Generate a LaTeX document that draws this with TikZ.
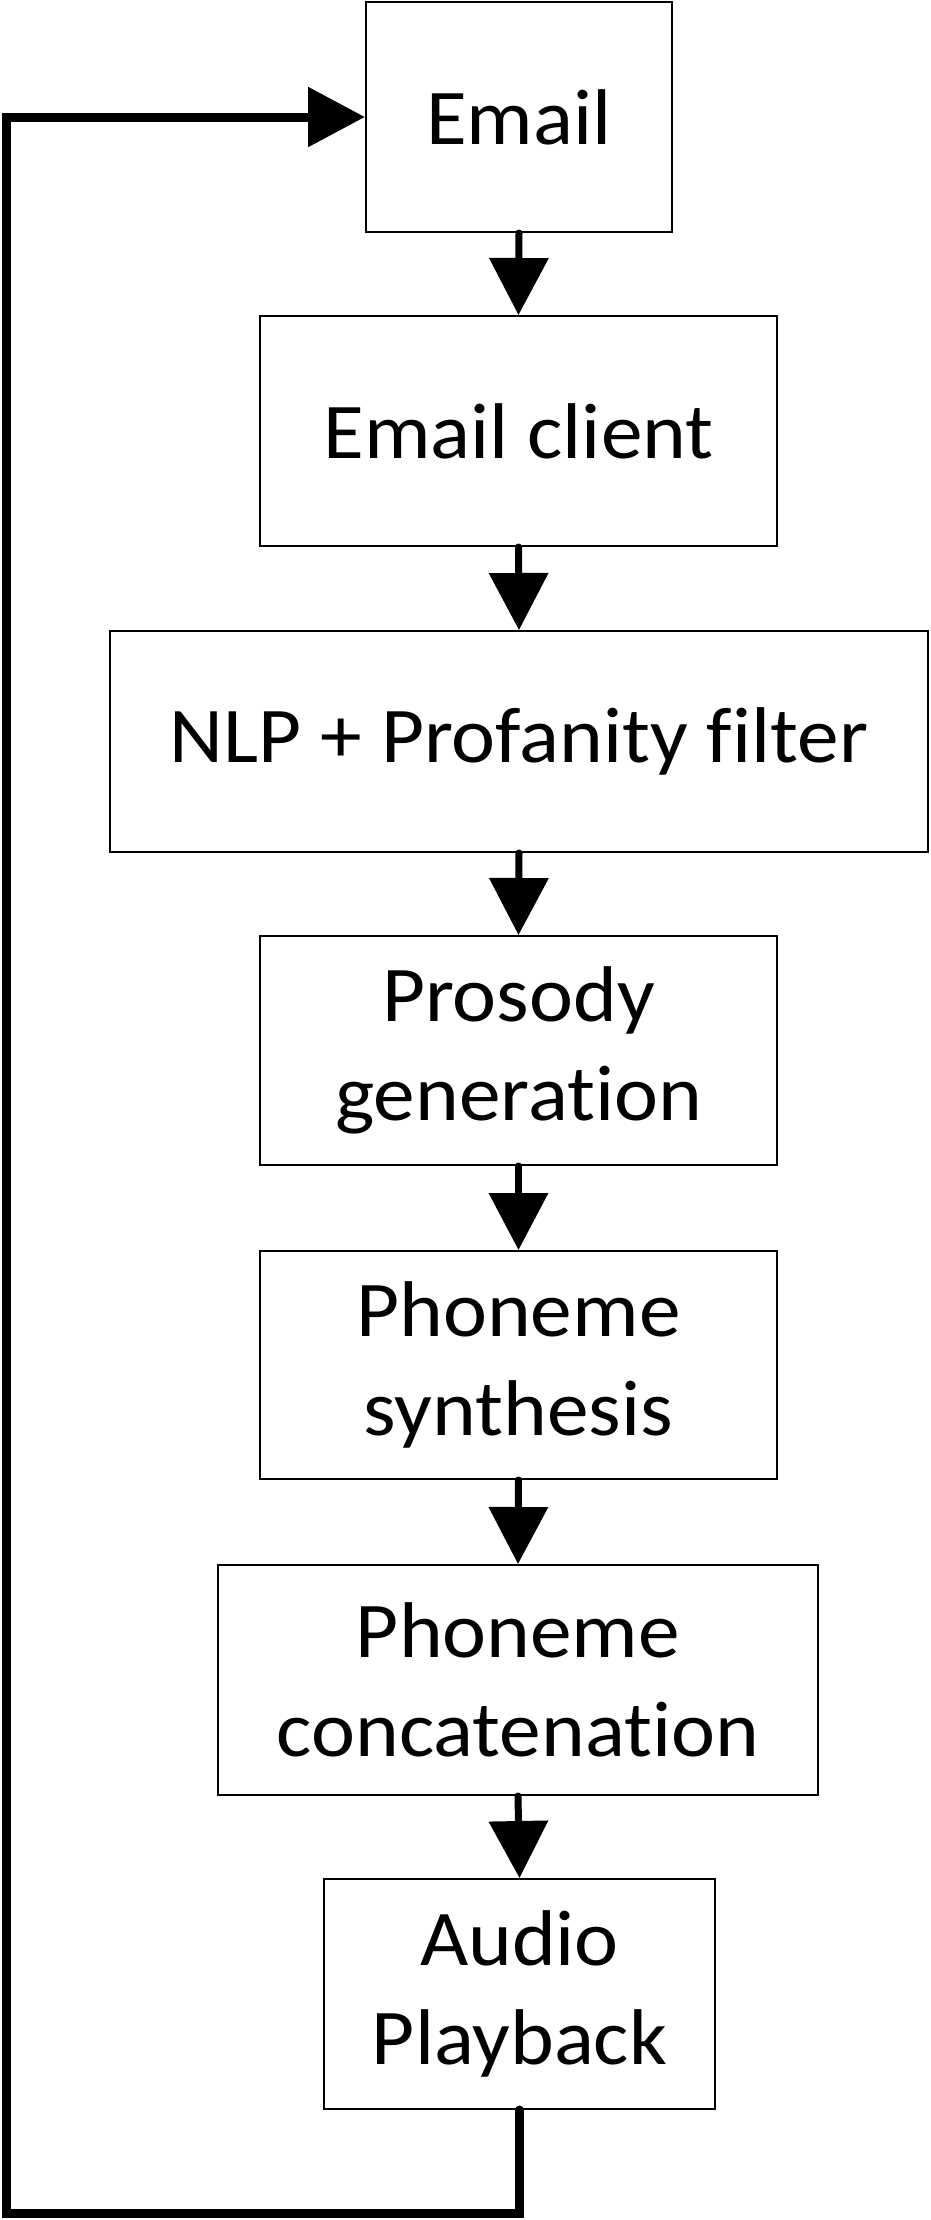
\documentclass[tikz,border=0pt]{standalone}
\usepackage{fontspec}
\setmainfont{Carlito}[FakeStretch=1.055,Ligatures=NoCommon]
\usetikzlibrary{arrows.meta}
\begin{document}
\begin{tikzpicture}[x=1pt,y=-1pt,
  box/.style={draw=black,line width=2pt,rectangle,align=center,inner sep=0pt,
    font=\fontsize{79}{99}\selectfont},
  flow/.style={line width=7pt,line cap=round,-{Triangle[length=57pt,width=58pt]}},
  loopline/.style={line width=9pt,line cap=round,line join=miter,-{Triangle[length=57pt,width=58pt]}}]
\useasboundingbox (0,0) rectangle (930,2220);
\node[box,minimum width=306pt,minimum height=230pt] (email) at (519,117) {Email};
\node[box,minimum width=517pt,minimum height=230pt] (client) at (518.5,431) {Email client};
\node[box,minimum width=818pt,minimum height=221pt] (nlp) at (519,741.5) {NLP + Profanity filter};
\node[box,minimum width=517pt,minimum height=229pt] (prosody) at (518.5,1050.5) {Prosody\\generation};
\node[box,minimum width=517pt,minimum height=228pt] (synth) at (518.5,1365) {Phoneme\\synthesis};
\node[box,minimum width=600pt,minimum height=230pt] (concat) at (518,1680) {Phoneme\\concatenation};
\node[box,minimum width=391pt,minimum height=230pt] (audio) at (519.5,1994) {Audio\\Playback};
\draw[flow] (email.south) -- (client.north);
\draw[flow] (client.south) -- (nlp.north);
\draw[flow] (nlp.south) -- (prosody.north);
\draw[flow] (prosody.south) -- (synth.north);
\draw[flow] (synth.south) -- (concat.north);
\draw[flow] (concat.south) -- (audio.north);
\coordinate (c1) at (519.5,2213);
\coordinate (c2) at (6,2213);
\coordinate (c3) at (6,117);
\draw[loopline] (audio.south) -- (c1) -- (c2) -- (c3) -- (email.west);
\end{tikzpicture}
\end{document}
